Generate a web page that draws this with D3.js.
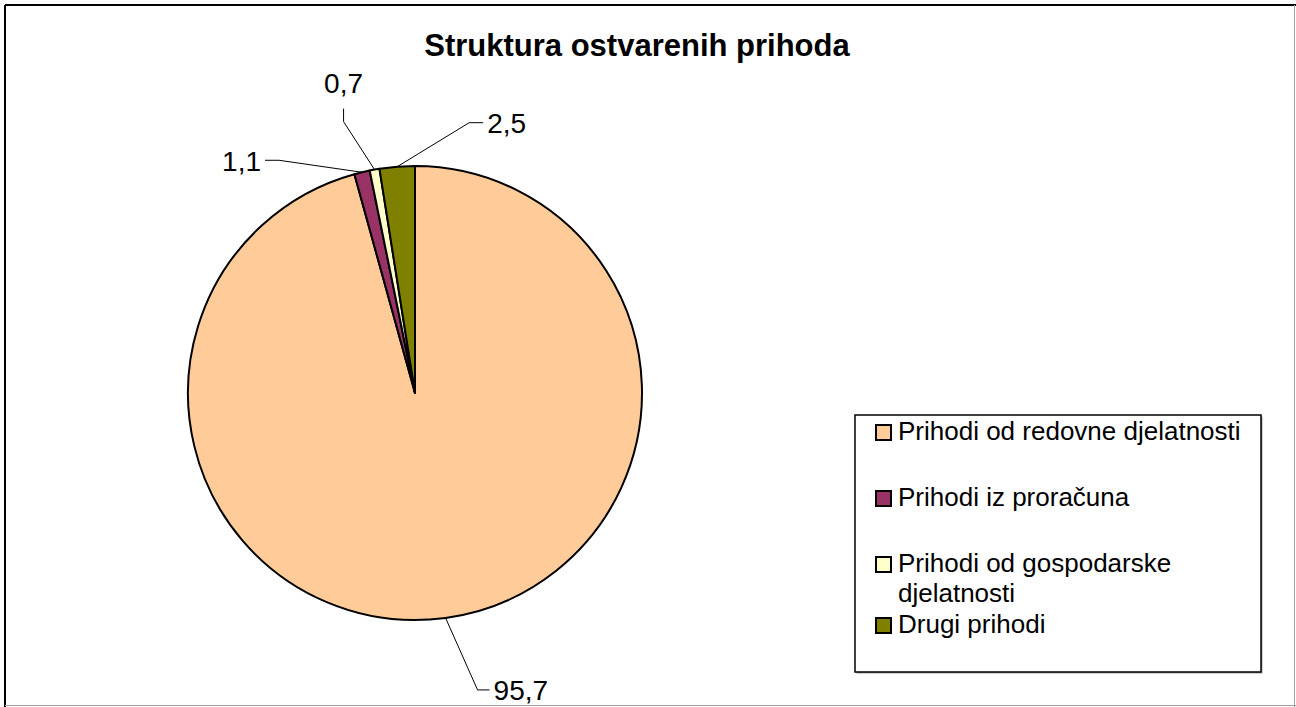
<!DOCTYPE html>
<html>
<head>
<meta charset="utf-8">
<script src="https://cdn.jsdelivr.net/npm/d3@7/dist/d3.min.js"></script>
<style>
  html, body { margin: 0; padding: 0; background: #ffffff; }
  svg { display: block; font-family: "Liberation Sans", Arial, sans-serif; }
</style>
</head>
<body>
<svg id="chart" width="1296" height="707"></svg>
<script>
// ---- data ----
const categories = [
  "Prihodi od redovne djelatnosti",
  "Prihodi iz proračuna",
  "Prihodi od gospodarske djelatnosti",
  "Drugi prihodi"
];
const values = [95.7, 1.1, 0.7, 2.5];
const valueLabels = ["95,7", "1,1", "0,7", "2,5"];
const legendLines = [
  ["Prihodi od redovne djelatnosti"],
  ["Prihodi iz proračuna"],
  ["Prihodi od gospodarske", "djelatnosti"],
  ["Drugi prihodi"]
];
const colors = ["#FFCC99", "#993366", "#FFFFCC", "#808000"];
const title = "Struktura ostvarenih prihoda";

// ---- layout (styling, not data) ----
const W = 1296, H = 707;
const cx = 415, cy = 393, R = 227;
// leader line: elbow offset from arc anchor, tail vector, text placement
const labelLayout = [
  { elbow: [32, 72],  tail: [12, 0],  anchor: "start",  tx: 4,  ty: 10 },
  { elbow: [-83, -12], tail: [-14, 0], anchor: "end",    tx: -4, ty: 11 },
  { elbow: [-31, -48], tail: [0, -13], anchor: "middle", tx: 0,  ty: -16 },
  { elbow: [72, -44],  tail: [14, 0],  anchor: "start",  tx: 4,  ty: 10 }
];
const legendBox = { x: 855, y: 415, w: 406, h: 257 };
const legendRowBaseline = [440, 506, 572, 633];
const legendLineHeight = 30;

const svg = d3.select("#chart");

// chart border
svg.append("line").attr("x1", 5).attr("y1", 5).attr("x2", W).attr("y2", 5)
  .attr("stroke", "#000").attr("stroke-width", 2);
svg.append("line").attr("x1", 5).attr("y1", 5).attr("x2", 5).attr("y2", H)
  .attr("stroke", "#000").attr("stroke-width", 2);
svg.append("line").attr("x1", W - 1.5).attr("y1", 5).attr("x2", W - 1.5).attr("y2", H)
  .attr("stroke", "#a0a0a0").attr("stroke-width", 1);
svg.append("line").attr("x1", 5).attr("y1", H - 1.5).attr("x2", W).attr("y2", H - 1.5)
  .attr("stroke", "#a0a0a0").attr("stroke-width", 1);

// title
svg.append("text")
  .attr("x", 637).attr("y", 56)
  .attr("text-anchor", "middle")
  .attr("font-size", 31).attr("font-weight", "bold")
  .attr("fill", "#000")
  .text(title);

// pie
const pie = d3.pie().sort(null).value(d => d)
  .startAngle(0).endAngle(2 * Math.PI);
const arcs = pie(values);
const arc = d3.arc().innerRadius(0).outerRadius(R);

const g = svg.append("g").attr("transform", `translate(${cx},${cy})`);
g.selectAll("path.slice")
  .data(arcs)
  .join("path")
  .attr("class", "slice")
  .attr("d", arc)
  .attr("fill", (d, i) => colors[i])
  .attr("stroke", "#000")
  .attr("stroke-width", 2)
  .attr("stroke-linejoin", "round");

// labels with leader lines
arcs.forEach((d, i) => {
  const a = (d.startAngle + d.endAngle) / 2;
  const ax = R * Math.sin(a), ay = -R * Math.cos(a);
  const L = labelLayout[i];
  const ex = ax + L.elbow[0], ey = ay + L.elbow[1];
  const tx = ex + L.tail[0], ty = ey + L.tail[1];
  g.append("polyline")
    .attr("points", `${ax},${ay} ${ex},${ey} ${tx},${ty}`)
    .attr("fill", "none")
    .attr("stroke", "#000")
    .attr("stroke-width", 1);
  g.append("text")
    .attr("x", tx + L.tx).attr("y", ty + L.ty)
    .attr("text-anchor", L.anchor)
    .attr("font-size", 28)
    .attr("fill", "#000")
    .text(valueLabels[i]);
});

// legend
svg.append("rect")
  .attr("x", legendBox.x + 1.5).attr("y", legendBox.y + 1.5)
  .attr("width", legendBox.w).attr("height", legendBox.h)
  .attr("fill", "#a0a0a0");
svg.append("rect")
  .attr("x", legendBox.x).attr("y", legendBox.y)
  .attr("width", legendBox.w).attr("height", legendBox.h)
  .attr("fill", "#fff").attr("stroke", "#000").attr("stroke-width", 1.5);

categories.forEach((c, i) => {
  const by = legendRowBaseline[i];
  svg.append("rect")
    .attr("x", 876).attr("y", by - 15)
    .attr("width", 15).attr("height", 15)
    .attr("fill", colors[i]).attr("stroke", "#000").attr("stroke-width", 2);
  const t = svg.append("text")
    .attr("x", 898).attr("y", by)
    .attr("font-size", 26).attr("fill", "#000");
  legendLines[i].forEach((ln, k) => {
    t.append("tspan").attr("x", 898).attr("y", by + k * legendLineHeight).text(ln);
  });
});
</script>
</body>
</html>
